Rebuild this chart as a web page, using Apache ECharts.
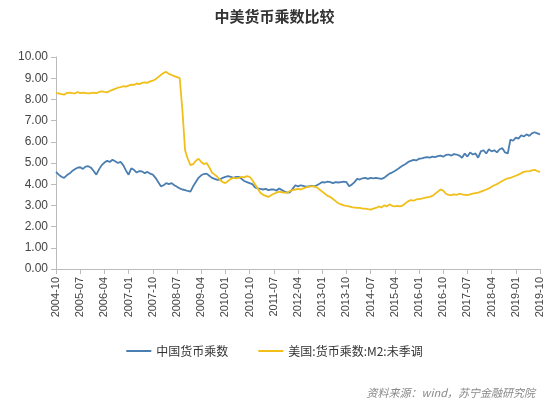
<!DOCTYPE html>
<html><head><meta charset="utf-8">
<script src="https://cdn.jsdelivr.net/npm/echarts@6/dist/echarts.min.js"></script>
<style>html,body{margin:0;padding:0;background:#fff}#c{width:549px;height:406px}</style>
</head><body><div id="c"></div>
<script>
const startYear = 2004, startMonth = 10, monthCount = 181;
const categories = [];
for (let i = 0; i < monthCount; i++) {
  const m = startMonth - 1 + i;
  const y = startYear + Math.floor(m / 12);
  const mm = (m % 12) + 1;
  categories.push(y + '-' + (mm < 10 ? '0' + mm : mm));
}
const yTicks = [0, 1, 2, 3, 4, 5, 6, 7, 8, 9, 10];
const chinaMultiplier = [
4.58,4.45,4.35,4.30,4.42,4.50,4.62,4.70,4.78,4.80,4.72,4.83,
4.85,4.78,4.62,4.45,4.70,4.90,5.02,5.10,5.05,5.15,5.08,5.00,
5.05,4.90,4.65,4.45,4.75,4.68,4.55,4.62,4.60,4.52,4.58,4.50,
4.45,4.30,4.10,3.90,3.95,4.05,4.00,4.05,3.95,3.88,3.80,3.75,
3.72,3.68,3.65,3.90,4.10,4.30,4.42,4.48,4.50,4.40,4.30,4.25,
4.20,4.22,4.30,4.35,4.38,4.35,4.30,4.35,4.35,4.25,4.15,4.10,
4.05,4.00,3.85,3.80,3.78,3.75,3.78,3.72,3.75,3.75,3.70,3.80,
3.72,3.65,3.60,3.62,3.78,3.95,3.90,3.95,3.92,3.88,3.90,3.92,
3.90,3.95,4.02,4.10,4.08,4.12,4.10,4.05,4.10,4.08,4.10,4.12,
4.10,3.90,3.98,4.10,4.25,4.22,4.28,4.30,4.25,4.30,4.28,4.30,
4.28,4.25,4.30,4.40,4.50,4.55,4.62,4.70,4.80,4.88,4.95,5.05,
5.10,5.15,5.12,5.20,5.22,5.25,5.28,5.25,5.30,5.28,5.32,5.35,
5.30,5.38,5.40,5.35,5.42,5.40,5.35,5.25,5.45,5.30,5.50,5.40,
5.45,5.25,5.55,5.60,5.45,5.65,5.55,5.60,5.50,5.65,5.70,5.50,
5.45,6.10,6.05,6.20,6.15,6.30,6.25,6.35,6.28,6.40,6.45,6.40,6.35];
const usMultiplier = [
8.30,8.28,8.25,8.22,8.30,8.32,8.30,8.28,8.35,8.30,8.32,8.30,
8.28,8.30,8.32,8.30,8.35,8.38,8.35,8.33,8.40,8.45,8.50,8.55,
8.58,8.62,8.60,8.65,8.70,8.68,8.75,8.72,8.78,8.80,8.78,8.85,
8.88,8.95,9.05,9.15,9.25,9.30,9.20,9.15,9.10,9.05,9.00,7.50,
5.60,5.20,4.90,4.95,5.10,5.20,5.05,4.95,5.00,4.80,4.55,4.45,
4.35,4.20,4.10,4.05,4.15,4.25,4.30,4.28,4.30,4.35,4.32,4.38,
4.35,4.20,4.00,3.80,3.60,3.50,3.45,3.40,3.48,3.55,3.60,3.65,
3.62,3.60,3.60,3.68,3.72,3.75,3.78,3.75,3.80,3.85,3.88,3.90,
3.90,3.85,3.75,3.65,3.55,3.45,3.40,3.30,3.20,3.10,3.05,3.00,
2.98,2.95,2.92,2.90,2.88,2.88,2.85,2.85,2.82,2.80,2.85,2.88,
2.95,2.90,3.00,2.95,3.05,2.98,2.95,2.98,2.95,3.00,3.10,3.20,
3.25,3.22,3.28,3.30,3.32,3.35,3.38,3.40,3.45,3.55,3.65,3.75,
3.70,3.55,3.50,3.48,3.52,3.50,3.55,3.52,3.50,3.48,3.52,3.55,
3.58,3.60,3.65,3.70,3.75,3.80,3.88,3.95,4.00,4.08,4.15,4.22,
4.28,4.30,4.35,4.40,4.45,4.52,4.58,4.60,4.62,4.65,4.68,4.62,4.58];

const chart = echarts.init(document.getElementById('c'));
const font = '"Noto Sans CJK SC", sans-serif';
chart.setOption({
  animation: false,
  title: { text: '中美货币乘数比较', left: 'center', top: 4,
    textStyle: { fontFamily: font, fontSize: 15, fontWeight: 'bold', color: '#333' } },
  grid: { left: 56, right: 9, top: 57, bottom: 137 },
  xAxis: { type: 'category', data: categories, boundaryGap: false,
    axisLine: { lineStyle: { color: '#bbb' } },
    axisTick: { interval: 8, alignWithLabel: true, lineStyle: { color: '#bbb' } },
    axisLabel: { interval: 8, rotate: 90, color: '#444', fontSize: 11, fontFamily: 'Liberation Sans' } },
  yAxis: { type: 'value', min: yTicks[0], max: yTicks[yTicks.length - 1], interval: 1,
    axisLine: { show: true, lineStyle: { color: '#bbb' } },
    axisTick: { show: true, lineStyle: { color: '#bbb' } },
    splitLine: { show: false },
    axisLabel: { color: '#444', fontSize: 12, fontFamily: 'Liberation Sans',
      formatter: v => v.toFixed(2) } },
  legend: { bottom: 44, itemGap: 30, itemWidth: 25, itemHeight: 2, icon: 'rect',
    textStyle: { fontFamily: font, fontSize: 12, color: '#333' } },
  series: [
    { name: '中国货币乘数', type: 'line', data: chinaMultiplier, showSymbol: false,
      lineStyle: { color: '#4a7eb0', width: 1.8 }, itemStyle: { color: '#4a7eb0' } },
    { name: '美国:货币乘数:M2:未季调', type: 'line', data: usMultiplier, showSymbol: false,
      lineStyle: { color: '#f0bf1a', width: 1.8 }, itemStyle: { color: '#f0bf1a' } }
  ],
  graphic: [{ type: 'text', right: 14, bottom: 8,
    style: { text: '资料来源：wind，苏宁金融研究院', fontFamily: font, fontSize: 11,
      fontStyle: 'italic', fill: '#888' } }]
});
</script></body></html>
